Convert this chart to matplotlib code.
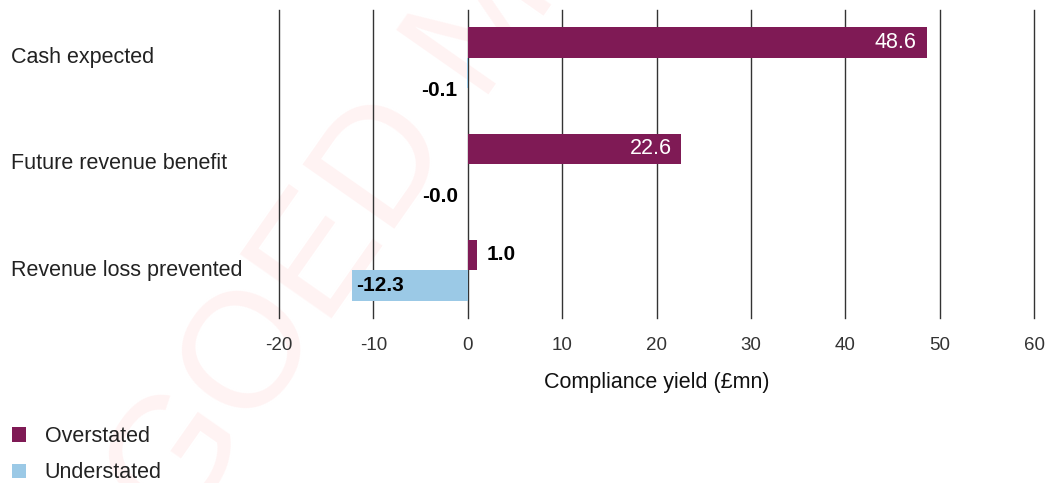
import numpy as np
import matplotlib.pyplot as plt
import matplotlib.transforms as mtransforms

# data
categories = ['Cash expected', 'Future revenue benefit', 'Revenue loss prevented']
overstated = [48.6, 22.6, 1.0]
understated = [-0.1, -0.0, -12.3]
series_names = ['Overstated', 'Understated']
xticks = [-20, -10, 0, 10, 20, 30, 40, 50, 60]

purple = '#7f1a55'
blue = '#9bc9e6'
plt.rcParams['font.family'] = ['Liberation Sans', 'DejaVu Sans']
plt.rcParams['axes.unicode_minus'] = False

fig = plt.figure(figsize=(10.61, 4.83), dpi=100)
# faint watermark behind the chart
fig.text(0.315, 0.50, 'GOED M', rotation=55, fontsize=118, color='#fff3f3',
         ha='center', va='center', zorder=-5)

ax = fig.add_axes([0.263, 0.342, 0.7117, 0.637])
ax.set_facecolor('none')

y = np.arange(len(categories))
h = 0.287
b1 = ax.barh(y - h / 2, overstated, height=h, color=purple, label=series_names[0], zorder=3)
b2 = ax.barh(y + h / 2, understated, height=h, color=blue, label=series_names[1], zorder=3)

ax.set_xlim(-20, 60)
ax.set_ylim(2.45, -0.45)
ax.set_xticks(xticks)
ax.set_yticks([])
for x in xticks:
    ax.axvline(x, color='#333333', lw=1, zorder=1, clip_on=False)
for s in ax.spines.values():
    s.set_visible(False)
ax.tick_params(axis='x', length=0, pad=14, labelsize=13.5, labelcolor='#333333')
ax.set_xlabel('Compliance yield (£mn)', fontsize=15.5, labelpad=13, color='#111111')

# category labels at left edge of figure
trans = mtransforms.blended_transform_factory(fig.transFigure, ax.transData)
for i, c in enumerate(categories):
    ax.text(11 / 1061, i, c, transform=trans, fontsize=15.5,
            color='#222222', va='center', ha='left')

# value labels
for i, v in enumerate(overstated):
    if v > 10:
        ax.annotate(f'{v:.1f}', (v, i - h / 2), xytext=(-7, 0), textcoords='offset points',
                    ha='right', va='center', color='white', fontsize=15.5, zorder=4)
    else:
        ax.annotate(f'{v:.1f}', (v, i - h / 2), xytext=(7, 0), textcoords='offset points',
                    ha='left', va='center', color='black', fontsize=15,
                    fontweight='bold', zorder=4)
for i, v in enumerate(understated):
    if v < -5:
        ax.annotate(f'{v:.1f}', (v, i + h / 2), xytext=(3, 0), textcoords='offset points',
                    ha='left', va='center', color='black', fontsize=15,
                    fontweight='bold', zorder=4)
    else:
        ax.annotate(f'{v:.1f}', (v, i + 0.31), xytext=(-7, 0), textcoords='offset points',
                    ha='right', va='center', color='black', fontsize=15,
                    fontweight='bold', zorder=4)

fig.legend(handles=[b1, b2], labels=series_names, loc='upper left',
           bbox_to_anchor=(12 / 1061, 1 - 426 / 483), frameon=False, fontsize=15.5,
           handlelength=0.66, handleheight=0.66, handletextpad=0.85,
           labelspacing=0.72, labelcolor='#222222', borderaxespad=0, borderpad=0)

fig.savefig('out.png', dpi=100)
